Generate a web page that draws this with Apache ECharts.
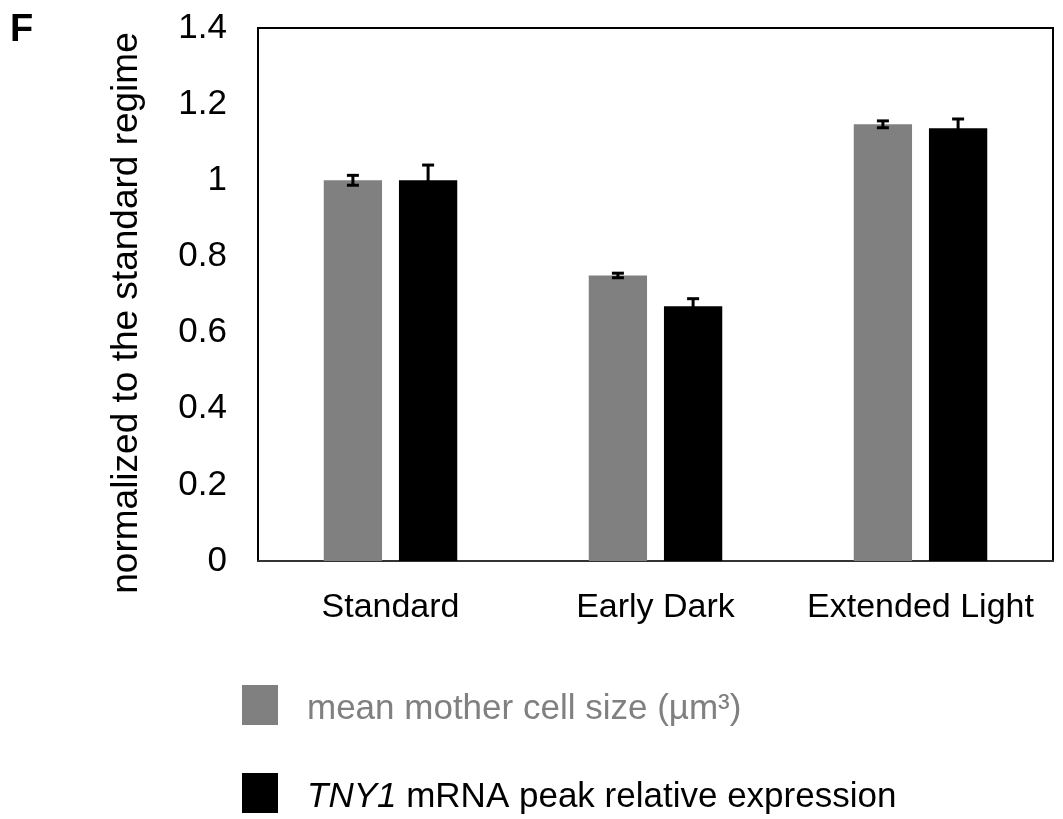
<!DOCTYPE html>
<html>
<head>
<meta charset="utf-8">
<script src="https://cdn.jsdelivr.net/npm/echarts@6/dist/echarts.min.js"></script>
<style>
  html, body { margin: 0; padding: 0; background: #fff; }
  #chart { width: 1063px; height: 819px; }
</style>
</head>
<body>
<div id="chart"></div>
<script>
// Light regimes on the x axis
const categories = ['Standard', 'Early Dark', 'Extended Light'];
// Values normalized to the standard regime
const cellSize = [1.0, 0.75, 1.147];
const cellSizeErr = [0.013, 0.006, 0.009];
const tnyExpr = [1.0, 0.669, 1.137];
const tnyExprErr = [0.04, 0.02, 0.024];
const yTicks = [0, 0.2, 0.4, 0.6, 0.8, 1, 1.2, 1.4];

const seriesNames = ['mean mother cell size (\u00b5m\u00b3)', 'TNY1 mRNA peak relative expression'];
const FONT = '"Liberation Sans", Arial, sans-serif';
const BAR_FRAC = 0.22;   // bar width as a share of the category band
const GAP_FRAC = 0.29;   // gap between paired bars as a share of bar width

function errorSeries(values, errs, side) {
  return {
    type: 'custom',
    z: 5,
    silent: true,
    data: values.map((v, i) => [i, v, errs[i]]),
    renderItem: function (params, api) {
      const i = api.value(0), v = api.value(1), e = api.value(2);
      const band = api.size([1, 0])[0];
      const bw = band * BAR_FRAC;
      const off = side * (bw + bw * GAP_FRAC) / 2;
      const cx = api.coord([i, v])[0] + off;
      const top = api.coord([i, v + e])[1];
      const bot = api.coord([i, v - e])[1];
      const half = 6;
      const style = { stroke: '#000', lineWidth: 3, fill: null };
      return {
        type: 'group',
        children: [
          { type: 'line', shape: { x1: cx, y1: top, x2: cx, y2: bot }, style: style },
          { type: 'line', shape: { x1: cx - half, y1: top, x2: cx + half, y2: top }, style: style },
          { type: 'line', shape: { x1: cx - half, y1: bot, x2: cx + half, y2: bot }, style: style }
        ]
      };
    }
  };
}

// One legend block per series, stacked vertically
function legendBlock(name, top, color, formatter) {
  return {
    left: 237,
    top: top,
    itemWidth: 36,
    itemHeight: 40,
    icon: 'rect',
    selectedMode: false,
    data: [{ name: name }],
    formatter: formatter,
    textStyle: {
      fontSize: 35,
      color: color,
      fontFamily: FONT,
      padding: [8, 0, 0, 24],
      rich: {
        g: { fontSize: 35, color: '#808080', fontFamily: FONT },
        i: { fontSize: 35, color: '#000', fontStyle: 'italic', fontFamily: FONT },
        n: { fontSize: 35, color: '#000', fontFamily: FONT }
      }
    }
  };
}

const chart = echarts.init(document.getElementById('chart'), null, { renderer: 'canvas' });
chart.setOption({
  backgroundColor: '#fff',
  animation: false,
  textStyle: { fontFamily: FONT },
  grid: {
    left: 258, right: 10, top: 28, bottom: 258,
    show: true, borderColor: '#000', borderWidth: 2, backgroundColor: 'transparent'
  },
  xAxis: {
    type: 'category',
    data: categories,
    offset: 3,
    axisLine: { show: true, lineStyle: { color: '#333', width: 2 } },
    axisTick: { show: false },
    axisLabel: { color: '#000', fontSize: 34, fontFamily: FONT, margin: 27, interval: 0 },
    splitLine: { show: false }
  },
  yAxis: {
    type: 'value',
    min: yTicks[0],
    max: yTicks[yTicks.length - 1],
    interval: 0.2,
    axisLine: { show: false },
    axisTick: { show: false },
    splitLine: { show: false },
    axisLabel: {
      color: '#000', fontSize: 35, fontFamily: FONT, margin: 31,
      formatter: v => String(Math.round(v * 10) / 10)
    }
  },
  legend: [
    legendBlock(seriesNames[0], 680, '#808080', name => '{g|' + name + '}'),
    legendBlock(seriesNames[1], 768, '#000', () => '{i|TNY1}{n| mRNA peak relative expression}')
  ],
  graphic: [
    {
      type: 'text', left: 10, top: 12,
      style: { text: 'F', font: 'bold 38px ' + FONT, fill: '#000' }
    },
    {
      type: 'text', x: 127, y: 313, rotation: Math.PI / 2,
      style: {
        text: 'normalized to the standard regime', font: '37px ' + FONT,
        fill: '#000', align: 'center', verticalAlign: 'middle'
      }
    }
  ],
  series: [
    {
      name: seriesNames[0], type: 'bar', data: cellSize,
      barWidth: (BAR_FRAC * 100) + '%', barGap: (GAP_FRAC * 100) + '%',
      itemStyle: { color: '#808080' }
    },
    {
      name: seriesNames[1], type: 'bar', data: tnyExpr,
      barWidth: (BAR_FRAC * 100) + '%', barGap: (GAP_FRAC * 100) + '%',
      itemStyle: { color: '#000' }
    },
    errorSeries(cellSize, cellSizeErr, -1),
    errorSeries(tnyExpr, tnyExprErr, 1)
  ]
});
</script>
</body>
</html>
